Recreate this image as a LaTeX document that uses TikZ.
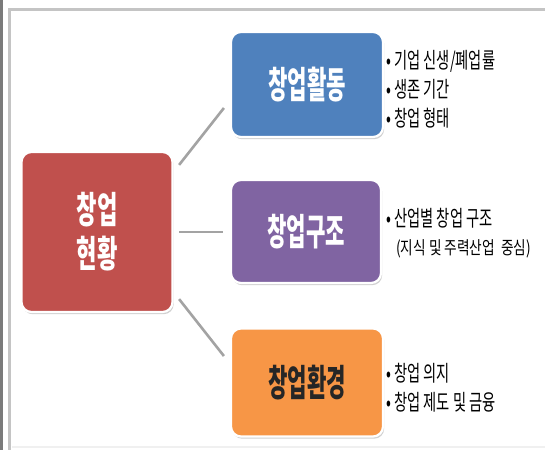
\documentclass[tikz,border=0pt]{standalone}
\usepackage{fontspec}
\newfontfamily\kr{Noto Sans CJK KR}
\usetikzlibrary{shadows,calc}
\definecolor{cblue}{HTML}{4F81BD}
\definecolor{cpurple}{HTML}{8064A2}
\definecolor{cred}{HTML}{C0504D}
\definecolor{corange}{HTML}{F79646}
\definecolor{cline}{HTML}{A3A3A3}
\definecolor{cframe}{HTML}{C4C4C4}
\definecolor{cdark}{HTML}{7A7A7A}
\newcommand\hs[2][0.6]{\scalebox{#1}[1]{#2}}
\begin{document}
\begin{tikzpicture}[x=1pt,y=-1pt,
  box/.style={rectangle, rounded corners=10pt, draw=white, line width=2.2pt,
    drop shadow={shadow xshift=1.2pt, shadow yshift=-2.2pt, fill=black!40, opacity=0.45},
    inner sep=0pt, font=\kr\bfseries\fontsize{37}{44}\selectfont, align=center},
  conn/.style={draw=cline, line width=2.6pt},
  list/.style={anchor=west, align=left, inner sep=0pt, font=\kr\fontsize{22}{29}\selectfont}]
\useasboundingbox (0,0) rectangle (545,450);
\fill[white] (0,0) rectangle (545,450);
% frame
\fill[cdark] (0,0) rectangle (2.6,450);
\fill[cframe] (8,8) rectangle (10.5,450);
\fill[cframe] (8,8) rectangle (545,10.5);
\fill[black!6] (12,446) rectangle (545,448);
% boxes
\node[box, fill=cred, text=white, minimum width=151, minimum height=160] (red) at (97,232)
  {\hs[0.6]{창업}\\\hs[0.6]{현황}};
\node[box, fill=cblue, text=white, minimum width=152, minimum height=105] (blue) at (307,84.5)
  {\hs[0.57]{창업활동}};
\node[box, fill=cpurple, text=white, minimum width=150, minimum height=103] (purple) at (306,231.5)
  {\hs[0.57]{창업구조}};
\node[box, fill=corange, text=black!85, minimum width=152, minimum height=108] (orange) at (307,382.5)
  {\hs[0.57]{창업환경}};
% connectors
\draw[conn] ([shift={(5.5,14)}]red.north east) -- ([shift={(-6,23.5)}]blue.west);
\draw[conn] ([shift={(5.5,0)}]red.east) -- ([shift={(-7,0.5)}]purple.west);
\draw[conn] ([shift={(5.5,-14)}]red.south east) -- ([shift={(-6,-26.5)}]orange.west);
% lists
\node[list] (l1) at (386,89) {\hs[0.65]{• 기업 신생/폐업률}\\\hs[0.65]{• 생존 기간}\\\hs[0.65]{• 창업 형태}};
\node[list] (l2) at (386,233) {\hs[0.65]{• 산업별 창업 구조}\\[-1pt]\hspace*{10pt}{\fontsize{18}{20}\selectfont\hs[0.76]{(지식 및 주력산업\ \ 중심)}}};
\node[list] (l3) at (386,388) {\hs[0.65]{• 창업 의지}\\\hs[0.65]{• 창업 제도 및 금융}};
\end{tikzpicture}
\end{document}
